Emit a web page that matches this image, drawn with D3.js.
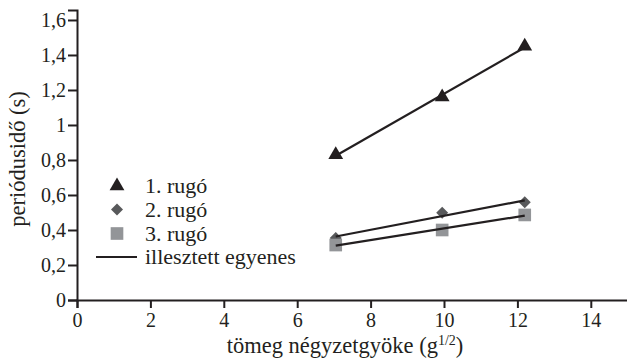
<!DOCTYPE html>
<html><head><meta charset="utf-8">
<script src="https://cdn.jsdelivr.net/npm/d3@7"></script>
<style>body{margin:0;background:#fff}</style>
</head><body><svg id="c" width="627" height="358"></svg>
<script>
const xValues = [7.05, 9.95, 12.2];
const rugo1 = [0.83, 1.16, 1.45];
const rugo2 = [0.354, 0.499, 0.558];
const rugo3 = [0.314, 0.40, 0.486];
const seriesNames = ["1. rugó", "2. rugó", "3. rugó"];
const fitLabel = "illesztett egyenes";
const xTicks = [0, 2, 4, 6, 8, 10, 12, 14];
const yTicks = [0, 0.2, 0.4, 0.6, 0.8, 1, 1.2, 1.4, 1.6];
const yTickLabels = ["0", "0,2", "0,4", "0,6", "0,8", "1", "1,2", "1,4", "1,6"];
const xTitle = "tömeg négyzetgyöke (g";
const yTitle = "periódusidő (s)";

const FONT = "'Liberation Serif', 'Times New Roman', serif";
const TXT = "#231f20";
const svg = d3.select("#c");
const x = d3.scaleLinear().domain([0, 15]).range([77, 627.5]);
const y = d3.scaleLinear().domain([0, 1.657]).range([300, 10]);
const tfs = 20, lfs = 22, afs = 22.5;

// axes
const gx = svg.append("g").attr("transform", "translate(0,300)")
  .call(d3.axisBottom(x).tickValues(xTicks).tickSize(8).tickPadding(5).tickFormat(d => d));
const gy = svg.append("g").attr("transform", "translate(77,0)")
  .call(d3.axisLeft(y).tickValues(yTicks).tickSize(9).tickPadding(2).tickFormat((d, i) => yTickLabels[i]));
[gx, gy].forEach(g => {
  g.attr("font-family", null).style("font-family", FONT);
  g.select(".domain").attr("stroke", TXT).attr("stroke-width", 2);
  g.selectAll(".tick line").attr("stroke", TXT).attr("stroke-width", 2);
  g.selectAll(".tick text").attr("font-size", tfs).style("font-family", FONT).attr("fill", TXT);
});

// titles
const xt = svg.append("text").attr("x", 345).attr("y", 353).attr("text-anchor", "middle")
  .attr("font-size", afs).style("font-family", FONT).attr("fill", TXT);
xt.append("tspan").text(xTitle);
xt.append("tspan").attr("dy", -8).attr("font-size", 14).text("1/2");
xt.append("tspan").attr("dy", 8).text(")");
svg.append("text").attr("transform", "translate(25,159) rotate(-90)").attr("text-anchor", "middle")
  .attr("font-size", afs).style("font-family", FONT).attr("fill", TXT).text(yTitle);

// fitted lines (least squares)
function fit(xs, ys) {
  const mx = d3.mean(xs), my = d3.mean(ys);
  const b = d3.sum(xs, (v, i) => (v - mx) * (ys[i] - my)) / d3.sum(xs, v => (v - mx) ** 2);
  return v => my + b * (v - mx);
}
const series = [
  {vals: rugo1, sym: d3.symbolTriangle, size: 95, color: "#231f20", rot: 0},
  {vals: rugo2, sym: d3.symbolSquare, size: 72, color: "#58595b", rot: 45},
  {vals: rugo3, sym: d3.symbolSquare, size: 160, color: "#939598", rot: 0}
];
const line = d3.line().x(d => x(d[0])).y(d => y(d[1]));

series.forEach(s => {
  svg.append("g").selectAll("path").data(xValues).join("path")
    .attr("transform", (d, i) => `translate(${x(d)},${y(s.vals[i])}) rotate(${s.rot})`)
    .attr("d", d3.symbol().type(s.sym).size(s.size)).attr("fill", s.color);
});
series.forEach(s => {
  const f = fit(xValues, s.vals);
  const x0 = d3.min(xValues), x1 = d3.max(xValues);
  svg.append("path").attr("d", line([[x0, f(x0)], [x1, f(x1)]]))
    .attr("stroke", "#231f20").attr("stroke-width", 2.2).attr("fill", "none");
});

// legend
const ly = [186, 209.5, 233.5];
series.forEach((s, i) => {
  svg.append("path").attr("transform", `translate(117,${ly[i]}) rotate(${s.rot})`)
    .attr("d", d3.symbol().type(s.sym).size(s.size)).attr("fill", s.color);
  svg.append("text").attr("x", 145).attr("y", ly[i] + 7).attr("font-size", lfs)
    .style("font-family", FONT).attr("fill", TXT).text(seriesNames[i]);
});
svg.append("line").attr("x1", 96).attr("x2", 137).attr("y1", 257).attr("y2", 257)
  .attr("stroke", "#231f20").attr("stroke-width", 2.2);
svg.append("text").attr("x", 145).attr("y", 264).attr("font-size", lfs)
  .style("font-family", FONT).attr("fill", TXT).text(fitLabel);
</script></body></html>
